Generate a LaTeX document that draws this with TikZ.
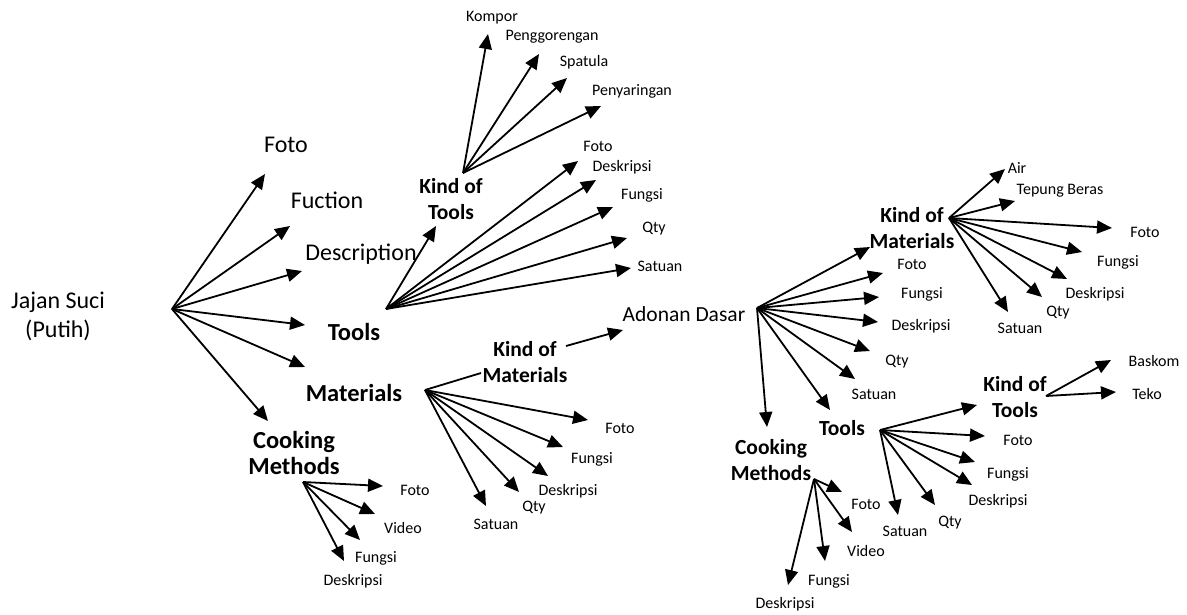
\documentclass[tikz,border=0pt]{standalone}
\usepackage{fontspec}
\setmainfont{Carlito}
\usetikzlibrary{arrows.meta}
\newcommand{\leaf}[6]{%
  \node[#2] (#1) at (#3) {#4};
  \coordinate (#1-tip) at (#5);
  \draw[arr] (#6) -- (#1-tip);
}
\begin{document}
\begin{tikzpicture}[x=1pt,y=-1pt,
  arr/.style={line width=1.8pt,-{Triangle[length=15pt,width=13pt]}},
  plain/.style={line width=1.8pt},
  sm/.style={inner sep=0pt,font=\fontsize{16}{19}\selectfont},
  big/.style={inner sep=0pt,align=center,font=\fontsize{24}{29}\selectfont},
  ad/.style={inner sep=0pt,font=\fontsize{21.5}{25}\selectfont},
  bbig/.style={inner sep=0pt,align=center,font=\bfseries\fontsize{24.5}{26}\selectfont},
  bmid/.style={inner sep=0pt,align=center,font=\bfseries\fontsize{21.5}{25.5}\selectfont}]
\useasboundingbox (0,0) rectangle (1187,614);

% root
\node[big] (root) at (58,316) {Jajan Suci\\(Putih)};
\coordinate (h0) at (172,309);
\leaf{foto0}{big}{286,145}{Foto}{265,174}{h0}
\leaf{fuc}{big}{327,200}{Fuction}{290,226}{h0}
\leaf{desc}{big}{361,254}{Description}{302,271}{h0}
\leaf{tools}{bbig}{354,332}{Tools}{305,325}{h0}
\leaf{mat}{bbig}{354,393}{Materials}{305,367}{h0}
\leaf{cook}{bbig}{294,453}{Cooking\\Methods}{268,421}{h0}

% Tools (left)
\coordinate (h1) at (386,309);
\leaf{kot}{bmid}{451,199}{Kind of\\Tools}{436,226}{h1}
\leaf{tfoto}{sm}{598,146}{Foto}{578,161}{h1}
\leaf{tdesk}{sm}{622,167}{Deskripsi}{596,180}{h1}
\leaf{tfung}{sm}{642,195}{Fungsi}{613,207}{h1}
\leaf{tqty}{sm}{654,229}{Qty}{627,238}{h1}
\leaf{tsat}{sm}{660,266}{Satuan}{631,268}{h1}

% Kind of Tools (left)
\coordinate (h2) at (463,173);
\leaf{kompor}{sm}{492,18}{Kompor}{488,34}{h2}
\leaf{peng}{sm}{552,37}{Penggorengan}{539,54}{h2}
\leaf{spat}{sm}{584,62}{Spatula}{567,78}{h2}
\leaf{penya}{sm}{632,91}{Penyaringan}{601,106}{h2}

% Materials (left)
\coordinate (h3) at (425,390);
\node[bmid] (kom) at (525,362) {Kind of\\Materials};
\coordinate (kom-in) at (481,373);
\draw[plain] (h3) -- (kom-in);
\leaf{mfoto}{sm}{620,428}{Foto}{588,420}{h3}
\leaf{mfung}{sm}{592,459}{Fungsi}{563,447}{h3}
\leaf{mdesk}{sm}{568,491}{Deskripsi}{548,476}{h3}
\leaf{mqty}{sm}{534,508}{Qty}{519,492}{h3}
\leaf{msat}{sm}{496,524}{Satuan}{486,506}{h3}

% Kind of Materials -> Adonan Dasar
\coordinate (kom-out) at (566,346);
\leaf{adonan}{ad}{684,314}{Adonan Dasar}{623,330}{kom-out}

% Cooking Methods (left)
\coordinate (h4) at (303,482);
\leaf{cfoto}{sm}{415,490}{Foto}{383,486}{h4}
\leaf{cvideo}{sm}{403,528}{Video}{375,514}{h4}
\leaf{cfung}{sm}{376,558}{Fungsi}{360,540}{h4}
\leaf{cdesk}{sm}{353,581}{Deskripsi}{344,561}{h4}

% Adonan Dasar
\coordinate (h5) at (757,308);
\leaf{kom2}{bmid}{912,228}{Kind of\\Materials}{870,247}{h5}
\leaf{afoto}{sm}{912,264}{Foto}{883,273}{h5}
\leaf{afung}{sm}{922,294}{Fungsi}{879,297}{h5}
\leaf{adesk}{sm}{921,326}{Deskripsi}{878,322}{h5}
\leaf{aqty}{sm}{897,362}{Qty}{870,351}{h5}
\leaf{asat}{sm}{874,394}{Satuan}{855,379}{h5}
\leaf{tools2}{bmid}{842,428}{Tools}{830,410}{h5}
\leaf{cook2}{bmid}{771,460}{Cooking\\Methods}{767,427}{h5}

% Kind of Materials (right)
\coordinate (h6) at (949,218);
\leaf{air}{sm}{1017,168}{Air}{1005,169}{h6}
\leaf{tep}{sm}{1060,191}{Tepung Beras}{1015,201}{h6}
\leaf{kfoto}{sm}{1145,232}{Foto}{1112,228}{h6}
\leaf{kfung}{sm}{1118,262}{Fungsi}{1082,252}{h6}
\leaf{kdesk}{sm}{1095,294}{Deskripsi}{1067,279}{h6}
\leaf{kqty}{sm}{1058,313}{Qty}{1042,297}{h6}
\leaf{ksat}{sm}{1020,328}{Satuan}{1008,312}{h6}

% Tools (right)
\coordinate (h7) at (880,430);
\leaf{kot2}{bmid}{1015,397}{Kind of\\Tools}{977,405}{h7}
\leaf{rfoto}{sm}{1018,440}{Foto}{985,436}{h7}
\leaf{rfung}{sm}{1008,474}{Fungsi}{975,462}{h7}
\leaf{rdesk}{sm}{998,501}{Deskripsi}{972,485}{h7}
\leaf{rqty}{sm}{950,523}{Qty}{935,505}{h7}
\leaf{rsat}{sm}{905,531}{Satuan}{898,515}{h7}

% Kind of Tools (right)
\coordinate (h8) at (1046,396);
\leaf{baskom}{sm}{1154,361}{Baskom}{1111,360}{h8}
\leaf{teko}{sm}{1147,394}{Teko}{1116,392}{h8}

% Cooking Methods (right)
\coordinate (h9) at (814,479);
\leaf{rcfoto}{sm}{866,504}{Foto}{842,492}{h9}
\leaf{rcvideo}{sm}{866,551}{Video}{852,532}{h9}
\leaf{rcfung}{sm}{829,581}{Fungsi}{825,561}{h9}
\leaf{rcdesk}{sm}{785,604}{Deskripsi}{788,585}{h9}
\end{tikzpicture}
\end{document}
